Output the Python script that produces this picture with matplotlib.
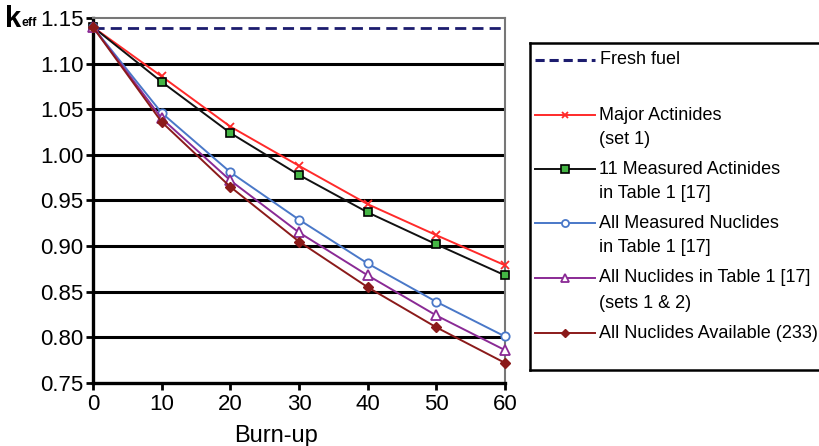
import matplotlib
matplotlib.use("Agg")
import matplotlib.pyplot as plt

plt.rcParams['font.family'] = ['Liberation Sans', 'DejaVu Sans']

burnup = [0, 10, 20, 30, 40, 50, 60]
fresh_fuel = 1.139
major_actinides = [1.140, 1.086, 1.031, 0.988, 0.946, 0.912, 0.879]
measured_actinides = [1.140, 1.080, 1.024, 0.978, 0.937, 0.902, 0.868]
all_measured = [1.140, 1.046, 0.981, 0.929, 0.881, 0.839, 0.801]
all_table1 = [1.140, 1.040, 0.972, 0.915, 0.868, 0.824, 0.786]
all_available = [1.140, 1.036, 0.965, 0.905, 0.855, 0.811, 0.772]

yticks = [0.75, 0.80, 0.85, 0.90, 0.95, 1.00, 1.05, 1.10, 1.15]
xticks = [0, 10, 20, 30, 40, 50, 60]

W, H = 819, 446
fig = plt.figure(figsize=(W / 100, H / 100), dpi=100)

def fx(px):
    return px / W

def fy(py):
    return 1 - py / H

ax = fig.add_axes([fx(93), fy(383), fx(505 - 93), (383 - 18) / H])
ax.set_xlim(0, 60)
ax.set_ylim(0.75, 1.15)

for yv in yticks[1:-1]:
    ax.axhline(yv, color='black', lw=2.2, zorder=1)

ax.axhline(fresh_fuel, color='#1c1c6e', lw=2.0, ls=(0, (4, 2.2)), zorder=2)

series = [
    (major_actinides, dict(color='#ff2a2a', marker='x', ms=5.5, mew=1.3, mfc='#ff2a2a', mec='#ff2a2a')),
    (measured_actinides, dict(color='#111111', marker='s', ms=6, mfc='#44b544', mec='black', mew=1.2)),
    (all_measured, dict(color='#4a78c8', marker='o', ms=6, mfc='white', mec='#4a78c8', mew=1.3)),
    (all_table1, dict(color='#8a2a95', marker='^', ms=6.5, mfc='white', mec='#8a2a95', mew=1.3)),
    (all_available, dict(color='#8b1a1a', marker='D', ms=5, mfc='#8b1a1a', mec='#8b1a1a', mew=1.0)),
]
for vals, st in series:
    ax.plot(burnup, vals, lw=1.4, zorder=3, clip_on=False, **st)

ax.set_xticks(xticks)
ax.set_yticks(yticks)
ax.set_yticklabels([f"{v:.2f}" for v in yticks])
ax.tick_params(axis='both', labelsize=16, width=2, length=5, direction='out', color='black')
ax.tick_params(axis='x', pad=3)
ax.tick_params(axis='y', pad=2)
for s in ['left', 'bottom']:
    ax.spines[s].set_linewidth(2.4)
    ax.spines[s].set_color('black')
for s in ['top', 'right']:
    ax.spines[s].set_linewidth(1.5)
    ax.spines[s].set_color('#777777')

fig.text(fx(276), fy(436), 'Burn-up', fontsize=17, ha='center', va='center')
fig.text(fx(5), fy(19), 'k', fontsize=21, fontweight='bold', ha='left', va='center')
fig.text(fx(21.5), fy(23), 'eff', fontsize=9, fontweight='bold', ha='left', va='center')

# legend box
lg = fig.add_axes([fx(530), fy(370), 1 - fx(530) + 0.02, (370 - 43) / H])
lg.set_xlim(530, 819 + 0.02 * W)
lg.set_ylim(370, 43)
lg.set_xticks([])
lg.set_yticks([])
for s in lg.spines.values():
    s.set_linewidth(1.8)
    s.set_color('black')

lg.plot([535, 595], [60, 60], color='#1c1c6e', lw=2.2, ls=(0, (3, 1.6)))
lg.text(600, 60, 'Fresh fuel', fontsize=13, va='center', ha='left')

entries = [
    (115, 'Major Actinides\n(set 1)', series[0][1]),
    (169, '11 Measured Actinides\nin Table 1 [17]', series[1][1]),
    (223, 'All Measured Nuclides\nin Table 1 [17]', series[2][1]),
    (278, 'All Nuclides in Table 1 [17]\n(sets 1 & 2)', series[3][1]),
    (333, 'All Nuclides Available (233)', series[4][1]),
]
for y, label, st in entries:
    st2 = dict(st)
    st2['ms'] = st2['ms'] * 0.85
    lg.plot([535, 565, 595], [y, y, y], lw=1.4, markevery=[1], **st2)
    lines = label.split('\n')
    for i, t in enumerate(lines):
        lg.text(599, y + i * 25, t, fontsize=13, va='center', ha='left')

fig.savefig('out.png', dpi=100)
